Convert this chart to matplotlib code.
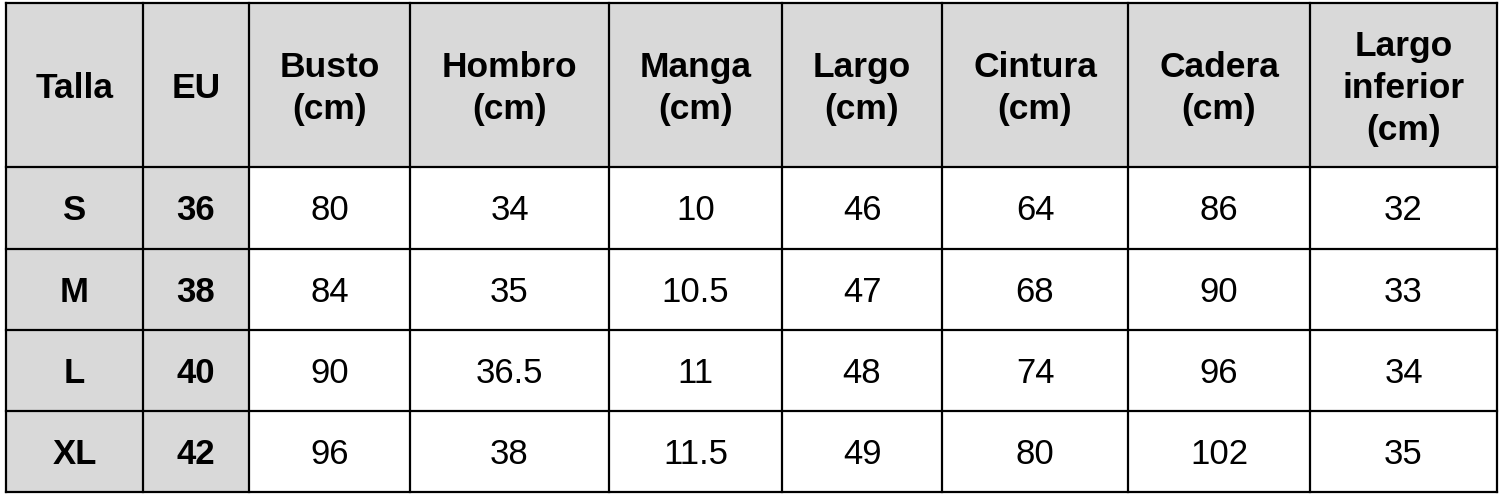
import matplotlib
matplotlib.use("Agg")
import matplotlib.pyplot as plt
from matplotlib.patches import Rectangle

# ---- data ----
headers = ["Talla", "EU", "Busto\n(cm)", "Hombro\n(cm)", "Manga\n(cm)", "Largo\n(cm)",
           "Cintura\n(cm)", "Cadera\n(cm)", "Largo\ninferior\n(cm)"]
tallas = ["S", "M", "L", "XL"]
eu = ["36", "38", "40", "42"]
busto = ["80", "84", "90", "96"]
hombro = ["34", "35", "36.5", "38"]
manga = ["10", "10.5", "11", "11.5"]
largo = ["46", "47", "48", "49"]
cintura = ["64", "68", "74", "80"]
cadera = ["86", "90", "96", "102"]
largo_inferior = ["32", "33", "34", "35"]

columns = [tallas, eu, busto, hombro, manga, largo, cintura, cadera, largo_inferior]

# ---- layout (pixel grid) ----
col_edges = [6, 143, 249, 410, 609, 782, 942, 1128, 1310, 1497]
row_edges = [3, 167, 249, 330, 411, 492]
gray = "#d9d9d9"
font = ["Liberation Sans", "DejaVu Sans"]
DPI = 100
head_fs = 25.5
body_fs = 25
ls = 1.35
CAP = 0.716

fig = plt.figure(figsize=(15, 4.98), dpi=DPI)
ax = fig.add_axes([0, 0, 1, 1])
ax.set_xlim(0, 1500)
ax.set_ylim(498, 0)
ax.axis("off")

nrows = len(row_edges) - 1
ncols = len(col_edges) - 1
for r in range(nrows):
    for c in range(ncols):
        x0, x1 = col_edges[c], col_edges[c + 1]
        y0, y1 = row_edges[r], row_edges[r + 1]
        shaded = (r == 0) or (c < 2)
        ax.add_patch(Rectangle((x0, y0), x1 - x0, y1 - y0,
                               facecolor=gray if shaded else "white",
                               edgecolor="none", zorder=1))
        if r == 0:
            txt = headers[c]
            bold = True
            size = head_fs
        else:
            txt = columns[c][r - 1]
            bold = c < 2
            size = body_fs
        em = size * DPI / 72
        n = txt.count("\n") + 1
        spacing = (0.21 + 0.73 * ls) * em
        ybase = (y0 + y1) / 2 + (n - 1) * spacing / 2 + CAP * em / 2
        ax.text((x0 + x1) / 2, ybase, txt, ha="center", va="baseline",
                multialignment="center",
                fontsize=size, fontweight="bold" if bold else "normal",
                family=font, linespacing=ls, color="black", zorder=3)

for x in col_edges:
    ax.plot([x, x], [row_edges[0], row_edges[-1]], color="black", lw=1.6,
            solid_capstyle="projecting", zorder=2)
for y in row_edges:
    ax.plot([col_edges[0], col_edges[-1]], [y, y], color="black", lw=1.6,
            solid_capstyle="projecting", zorder=2)

fig.savefig("out.png", dpi=DPI, facecolor="white")
